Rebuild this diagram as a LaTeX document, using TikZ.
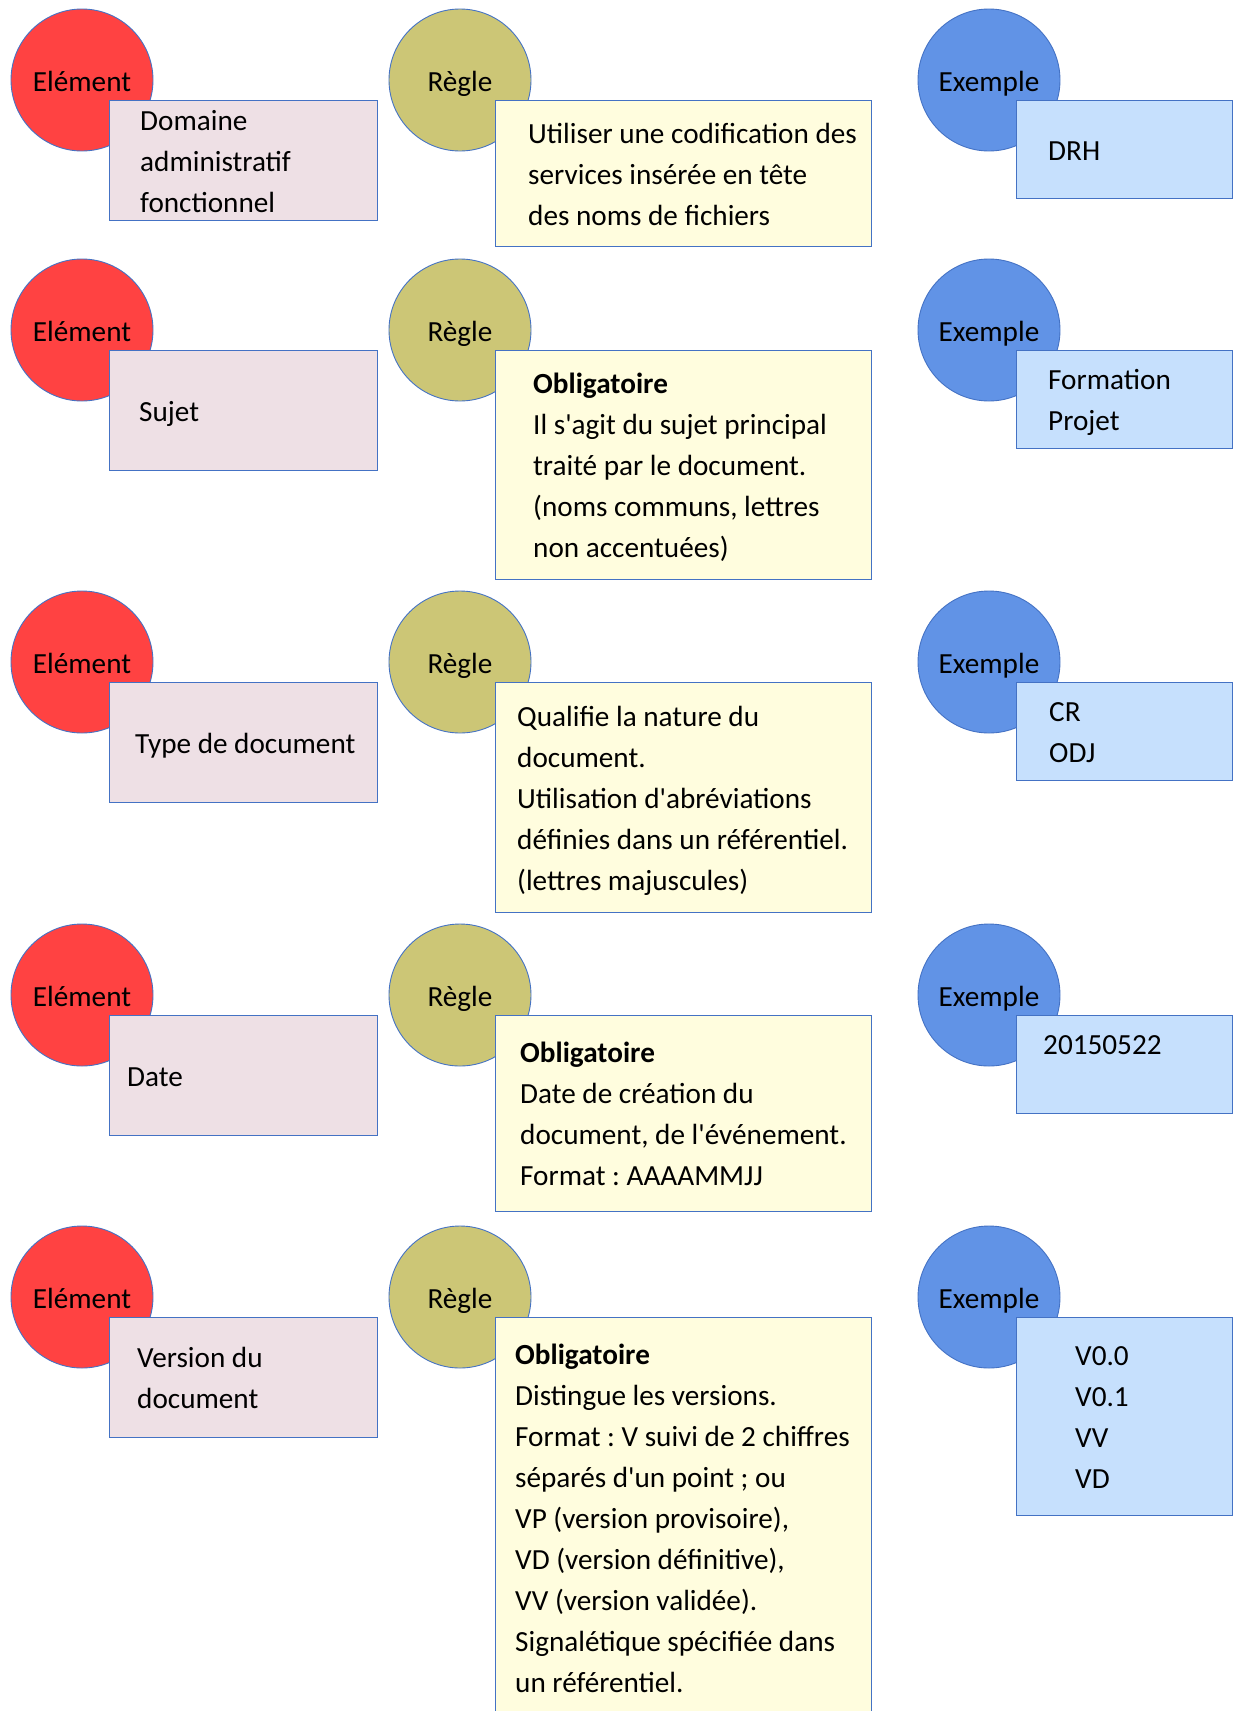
\documentclass[tikz,border=0pt]{standalone}
\usepackage{fontspec}
\setmainfont{Carlito}[Ligatures=TeXOff]
\usepackage{xcolor}
\usepackage{tikz}
\definecolor{elred}{RGB}{255,66,66}
\definecolor{rgolive}{RGB}{204,198,118}
\definecolor{exblue}{RGB}{97,147,230}
\definecolor{elpink}{RGB}{238,224,229}
\definecolor{rgcream}{RGB}{255,253,222}
\definecolor{exlight}{RGB}{198,224,253}
\definecolor{edgeblue}{RGB}{68,114,196}
\frenchspacing
% one line of box text: 41pt high
\newcommand{\linestrut}{\rule[-10pt]{0pt}{41pt}}
\tikzset{
  circ/.style={circle, draw=edgeblue, line width=0.9pt, minimum size=142pt, inner sep=0pt,
    text height=22pt, text depth=0pt, font=\fontsize{29.2}{41}\selectfont},
  elcircle/.style={circ, fill=elred},
  rgcircle/.style={circ, fill=rgolive},
  excircle/.style={circ, fill=exblue},
  boxbase/.style={rectangle, draw=edgeblue, line width=1.1pt, anchor=north west, inner sep=0pt},
  elbox/.style={boxbase, fill=elpink, minimum width=268pt, minimum height=120pt},
  rgbox/.style={boxbase, fill=rgcream, minimum width=376pt},
  exbox/.style={boxbase, fill=exlight, minimum width=216pt},
  boxtext/.style={anchor=west, align=left, inner sep=0pt, font=\fontsize{29.2}{41}\selectfont,
    execute at end node=\linestrut}
}
\begin{document}
\begin{tikzpicture}[x=1pt, y=-1pt]
  \useasboundingbox (0,0) rectangle (1233,1711);
  % Domaine
  \node[elcircle] (elc1) at (82,80) {Elément};
  \node[rgcircle] (rgc1) at (460,80) {Règle};
  \node[excircle] (exc1) at (989,80) {Exemple};
  \node[elbox] (el1) at (109,100) {};
  \node[rgbox, minimum height=146pt] (rg1) at (495,100) {};
  \node[exbox, minimum height=98pt] (ex1) at (1016,100) {};
  \node[boxtext] (el1t) at ([xshift=31pt]el1.west) {\linestrut Domaine\\administratif\\fonctionnel};
  \node[boxtext] (rg1t) at ([xshift=33pt]rg1.west) {\linestrut Utiliser une codification des\\services insérée en tête\\des noms de fichiers};
  \node[boxtext] (ex1t) at ([xshift=32pt]ex1.west) {\linestrut DRH};
  % Sujet
  \node[elcircle] (elc2) at (82,330) {Elément};
  \node[rgcircle] (rgc2) at (460,330) {Règle};
  \node[excircle] (exc2) at (989,330) {Exemple};
  \node[elbox] (el2) at (109,350) {};
  \node[rgbox, minimum height=229pt] (rg2) at (495,350) {};
  \node[exbox, minimum height=98pt] (ex2) at (1016,350) {};
  \node[boxtext] (el2t) at ([xshift=30pt]el2.west) {\linestrut Sujet};
  \node[boxtext] (rg2t) at ([xshift=38pt]rg2.west) {\linestrut\textbf{Obligatoire}\\Il s'agit du sujet principal\\traité par le document.\\(noms communs, lettres\\non accentuées)};
  \node[boxtext] (ex2t) at ([xshift=32pt]ex2.west) {\linestrut Formation\\Projet};
  % Type de document
  \node[elcircle] (elc3) at (82,662) {Elément};
  \node[rgcircle] (rgc3) at (460,662) {Règle};
  \node[excircle] (exc3) at (989,662) {Exemple};
  \node[elbox] (el3) at (109,682) {};
  \node[rgbox, minimum height=230pt] (rg3) at (495,682) {};
  \node[exbox, minimum height=98pt] (ex3) at (1016,682) {};
  \node[boxtext] (el3t) at ([xshift=26pt]el3.west) {\linestrut Type de document};
  \node[boxtext] (rg3t) at ([xshift=22pt]rg3.west) {\linestrut Qualifie la nature du\\document.\\Utilisation d'abréviations\\définies dans un référentiel.\\(lettres majuscules)};
  \node[boxtext] (ex3t) at ([xshift=33pt]ex3.west) {\linestrut CR\\ODJ};
  % Date
  \node[elcircle] (elc4) at (82,995) {Elément};
  \node[rgcircle] (rgc4) at (460,995) {Règle};
  \node[excircle] (exc4) at (989,995) {Exemple};
  \node[elbox] (el4) at (109,1015) {};
  \node[rgbox, minimum height=196pt] (rg4) at (495,1015) {};
  \node[exbox, minimum height=98pt] (ex4) at (1016,1015) {};
  \node[boxtext] (el4t) at ([xshift=18pt]el4.west) {\linestrut Date};
  \node[boxtext] (rg4t) at ([xshift=25pt]rg4.west) {\linestrut\textbf{Obligatoire}\\Date de création du\\document, de l'événement.\\Format : AAAAMMJJ};
  \node[boxtext] (ex4t) at ([xshift=27pt]ex4.west) {\linestrut 20150522\\\mbox{}};
  % Version
  \node[elcircle] (elc5) at (82,1297) {Elément};
  \node[rgcircle] (rgc5) at (460,1297) {Règle};
  \node[excircle] (exc5) at (989,1297) {Exemple};
  \node[elbox] (el5) at (109,1317) {};
  \node[rgbox, minimum height=401pt] (rg5) at (495,1317) {};
  \node[exbox, minimum height=198pt] (ex5) at (1016,1317) {};
  \node[boxtext] (el5t) at ([xshift=28pt]el5.west) {\linestrut Version du\\document};
  \node[boxtext] (rg5t) at ([xshift=20pt]rg5.west) {\linestrut\textbf{Obligatoire}\\Distingue les versions.\\Format : V suivi de 2 chiffres\\séparés d'un point ; ou\\VP (version provisoire),\\VD (version définitive),\\VV (version validée).\\Signalétique spécifiée dans\\un référentiel.};
  \node[boxtext] (ex5t) at ([xshift=59pt]ex5.west) {\linestrut V0.0\\V0.1\\VV\\VD};
\end{tikzpicture}
\end{document}
